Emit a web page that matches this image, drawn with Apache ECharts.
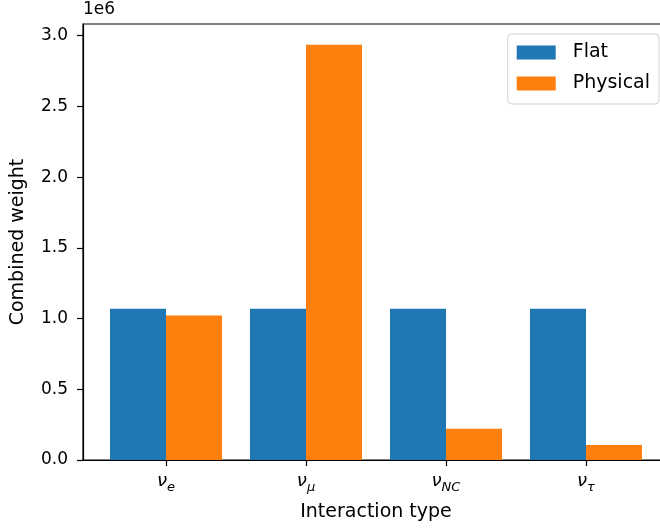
<!DOCTYPE html>
<html>
<head>
<meta charset="utf-8">
<title>Combined weight</title>
<script src="https://cdn.jsdelivr.net/npm/echarts@6/dist/echarts.min.js"></script>
<style>
    html, body { margin: 0; padding: 0; background: #fff; }
    #chart { width: 660px; height: 530px; }
</style>
</head>
<body>
<div id="chart"></div>
<script>
// 数据
const categories = ['e', 'μ', 'NC', 'τ'];          // ν 的下标
const flatValues = [1.07e6, 1.07e6, 1.07e6, 1.07e6];
const physicalValues = [1.021e6, 2.936e6, 0.221e6, 0.106e6];
const yTicks = [0, 0.5e6, 1.0e6, 1.5e6, 2.0e6, 2.5e6, 3.0e6];

const FONT = 'DejaVu Sans';
const TICK_SIZE = 17;   // 刻度标签
const LABEL_SIZE = 19;  // 轴标题、图例

const chart = echarts.init(document.getElementById('chart'));

/**
 * 类别位置 -> 数值坐标
 */
function toPoints(values) {
    return values.map((v, i) => [i, v]);
}

chart.setOption({
    animation: false,
    textStyle: { fontFamily: FONT, color: '#000' },
    title: {
        text: '1e6',
        left: 83,
        top: 1,
        padding: 0,
        textStyle: { fontFamily: FONT, fontSize: TICK_SIZE, fontWeight: 'normal', color: '#000' }
    },
    grid: {
        left: 83,
        top: 24,
        width: 586,
        height: 436,
        outerBoundsMode: 'none',
        containLabel: false,
        show: true,
        borderColor: '#000',
        borderWidth: 1.2,
        backgroundColor: 'transparent'
    },
    legend: {
        right: 1,
        top: 34,
        orient: 'vertical',
        icon: 'rect',
        itemWidth: 39,
        itemHeight: 14,
        itemGap: 12,
        padding: [9, 9, 11, 9],
        borderColor: '#d0d0d0',
        borderWidth: 1,
        borderRadius: 4,
        backgroundColor: 'rgba(255,255,255,0.8)',
        textStyle: { fontFamily: FONT, fontSize: LABEL_SIZE, color: '#000', padding: [0, 0, 0, 12] },
        data: ['Flat', 'Physical']
    },
    xAxis: {
        type: 'value',
        min: -0.593,
        max: 3.593,
        name: 'Interaction type',
        nameLocation: 'middle',
        nameGap: 43,
        nameTextStyle: { fontFamily: FONT, fontSize: LABEL_SIZE, color: '#000' },
        splitLine: { show: false },
        axisLine: { onZero: false, lineStyle: { color: '#000', width: 1.2 } },
        axisTick: { customValues: [0, 1, 2, 3], length: 6, lineStyle: { color: '#000', width: 1.2 } },
        axisLabel: {
            customValues: [0, 1, 2, 3],
            margin: 8,
            formatter: v => `{nu|ν}{sub|${categories[v]}}`,
            rich: {
                nu: { fontFamily: FONT, fontSize: 18, fontStyle: 'italic', color: '#000', lineHeight: 26, verticalAlign: 'middle' },
                sub: { fontFamily: FONT, fontSize: 13, fontStyle: 'italic', color: '#000', lineHeight: 13, verticalAlign: 'bottom' }
            }
        }
    },
    yAxis: {
        type: 'value',
        min: 0,
        max: 3.083e6,
        interval: 0.5e6,
        name: 'Combined weight',
        nameLocation: 'middle',
        nameGap: 55,
        nameTextStyle: { fontFamily: FONT, fontSize: LABEL_SIZE, color: '#000' },
        splitLine: { show: false },
        axisLine: { show: true, onZero: false, lineStyle: { color: '#000', width: 1.2 } },
        axisTick: { show: true, length: 6, lineStyle: { color: '#000', width: 1.2 } },
        axisLabel: {
            margin: 15,
            fontFamily: FONT,
            fontSize: TICK_SIZE,
            color: '#000',
            showMaxLabel: false,
            formatter: v => yTicks.includes(v) ? (v / 1e6).toFixed(1) : ''
        }
    },
    series: [
        {
            name: 'Flat',
            type: 'bar',
            data: toPoints(flatValues),
            barWidth: 56,
            barGap: '0%',
            itemStyle: { color: '#1f77b4' }
        },
        {
            name: 'Physical',
            type: 'bar',
            data: toPoints(physicalValues),
            barWidth: 56,
            barGap: '0%',
            itemStyle: { color: '#ff7f0e' }
        }
    ]
});
</script>
</body>
</html>
